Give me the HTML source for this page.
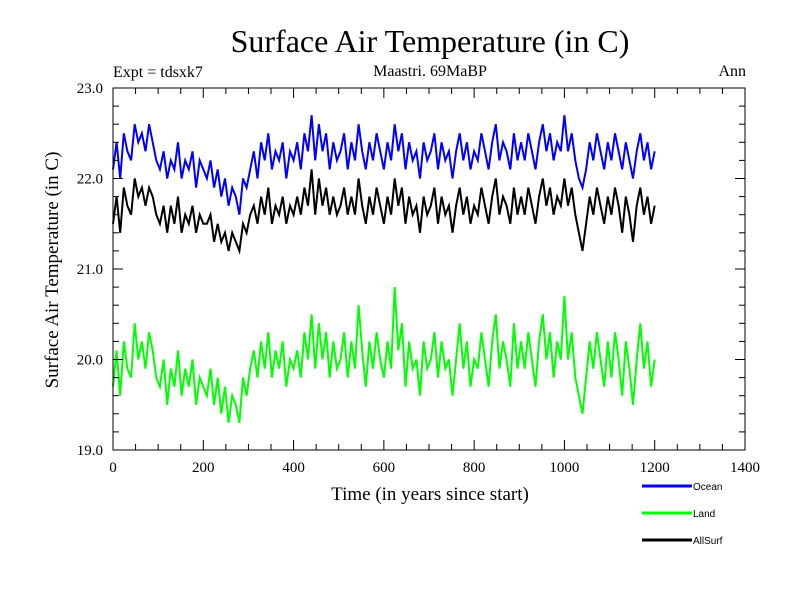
<!DOCTYPE html>
<html><head><meta charset="utf-8"><style>
body{margin:0;background:#fff}
svg{display:block}
.s{font-family:"Liberation Serif",serif}
.a{font-family:"Liberation Sans",sans-serif}
</style></head><body>
<svg id="chart" width="800" height="600" viewBox="0 0 800 600" xmlns="http://www.w3.org/2000/svg">
<rect width="800" height="600" fill="#fff"/>
<text class="s" x="430" y="52" font-size="32" text-anchor="middle">Surface Air Temperature (in C)</text>
<text class="s" x="113" y="77" font-size="16">Expt = tdsxk7</text>
<text class="s" x="430" y="76" font-size="16" text-anchor="middle">Maastri.  69MaBP</text>
<text class="s" x="746" y="76" font-size="16" text-anchor="end">Ann</text>
<text class="s" transform="translate(58,270) rotate(-90)" font-size="19" text-anchor="middle">Surface Air Temperature (in C)</text>
<text class="s" x="430" y="500" font-size="19" text-anchor="middle">Time (in years since start)</text>
<g id="plot"></g>
<g id="legend"></g>
</svg>
<script>
const xTicks=[0,200,400,600,800,1000,1200,1400];
const yTicks=[19.0,20.0,21.0,22.0,23.0];
const step=8;
const ocean=[22.1,22.4,22.0,22.5,22.3,22.2,22.6,22.4,22.5,22.3,22.6,22.4,22.2,
22.1,22.3,22.0,22.2,22.1,22.4,22.0,22.2,22.1,22.3,21.9,22.2,22.1,
22.0,22.2,21.9,22.1,21.8,22.0,21.7,21.9,21.8,21.6,22.0,21.9,
22.1,22.3,22.0,22.4,22.2,22.5,22.1,22.3,22.2,22.4,22.0,22.3,22.2,
22.4,22.1,22.5,22.3,22.7,22.2,22.6,22.3,22.5,22.1,22.4,22.2,
22.3,22.5,22.1,22.4,22.2,22.6,22.3,22.1,22.4,22.2,22.5,22.3,22.1,
22.4,22.2,22.6,22.3,22.5,22.1,22.4,22.2,22.3,22.0,22.4,22.2,
22.3,22.5,22.1,22.4,22.2,22.3,22.0,22.3,22.5,22.2,22.4,22.1,22.3,
22.2,22.5,22.3,22.1,22.4,22.6,22.2,22.4,22.3,22.1,22.5,22.2,
22.4,22.2,22.5,22.3,22.1,22.4,22.6,22.3,22.5,22.2,22.4,22.3,22.7,
22.3,22.5,22.2,22.0,21.9,22.1,22.4,22.2,22.5,22.3,22.1,22.4,
22.2,22.5,22.3,22.1,22.4,22.2,22.0,22.3,22.5,22.2,22.4,22.1,22.3];
const land=[19.7,20.1,19.6,20.2,19.9,19.8,20.4,20.0,20.2,19.9,20.3,20.1,19.8,
19.7,20.0,19.5,19.9,19.7,20.1,19.6,19.9,19.7,20.0,19.5,19.8,19.7,
19.6,19.9,19.5,19.8,19.4,19.7,19.3,19.6,19.5,19.3,19.8,19.6,
19.9,20.1,19.8,20.2,19.9,20.3,19.8,20.1,19.9,20.2,19.7,20.0,19.9,
20.1,19.8,20.3,20.0,20.5,19.9,20.4,20.0,20.3,19.8,20.2,19.9,
20.0,20.3,19.8,20.2,19.9,20.6,20.1,19.7,20.2,19.9,20.3,20.0,19.8,
20.2,19.9,20.8,20.1,20.4,19.7,20.2,19.9,20.0,19.6,20.2,19.9,
20.0,20.3,19.8,20.2,19.9,20.0,19.6,20.0,20.4,19.9,20.2,19.7,20.0,
19.9,20.3,20.0,19.7,20.2,20.5,19.9,20.2,20.0,19.7,20.4,19.9,
20.2,19.9,20.3,20.0,19.7,20.2,20.5,20.0,20.3,19.8,20.2,20.0,20.7,
20.0,20.3,19.8,19.6,19.4,19.8,20.2,19.9,20.3,20.0,19.7,20.2,
19.8,20.3,20.0,19.6,20.2,19.9,19.5,20.0,20.4,19.9,20.2,19.7,20.0];
const allsurf=[21.5,21.8,21.4,21.9,21.7,21.6,22.0,21.8,21.9,21.7,21.9,21.8,21.6,
21.5,21.7,21.4,21.7,21.5,21.8,21.4,21.6,21.5,21.7,21.4,21.6,21.5,
21.5,21.6,21.3,21.5,21.3,21.4,21.2,21.4,21.3,21.2,21.5,21.4,
21.6,21.7,21.5,21.8,21.6,21.9,21.5,21.7,21.6,21.8,21.5,21.7,21.6,
21.8,21.6,21.9,21.7,22.1,21.6,22.0,21.7,21.9,21.6,21.8,21.6,
21.7,21.9,21.6,21.8,21.6,22.0,21.7,21.5,21.8,21.6,21.9,21.7,21.5,
21.8,21.6,22.0,21.7,21.9,21.5,21.8,21.6,21.7,21.4,21.8,21.6,
21.7,21.9,21.5,21.8,21.6,21.7,21.4,21.7,21.9,21.6,21.8,21.5,21.7,
21.6,21.9,21.7,21.5,21.8,22.0,21.6,21.8,21.7,21.5,21.9,21.6,
21.8,21.6,21.9,21.7,21.5,21.8,22.0,21.7,21.9,21.6,21.8,21.7,22.0,
21.7,21.9,21.6,21.4,21.2,21.5,21.8,21.6,21.9,21.7,21.5,21.8,
21.6,21.9,21.7,21.4,21.8,21.6,21.3,21.7,21.9,21.6,21.8,21.5,21.7];
const seriesNames=["Ocean","Land","AllSurf"];
const seriesColors=["#0000ff","#00ff00","#000000"];

const NS="http://www.w3.org/2000/svg";
const L=113,R=745,T=88,B=450,X0=0,X1=1400,Y0=19,Y1=23;
const xs=v=>L+(v-X0)/(X1-X0)*(R-L);
const ys=v=>B-(v-Y0)/(Y1-Y0)*(B-T);
const plot=document.getElementById('plot');
function mk(tag,attrs,parent){const e=document.createElementNS(NS,tag);for(const k in attrs)e.setAttribute(k,attrs[k]);parent.appendChild(e);return e;}

[ocean,land,allsurf].forEach((arr,si)=>{
  const d=arr.map((v,i)=>(i?'L':'M')+xs(i*step).toFixed(1)+','+ys(v).toFixed(1)).join('');
  const p=mk('path',{d:d,fill:'none',stroke:seriesColors[si],'stroke-width':2,'stroke-linejoin':'miter'},plot);
  
  
});

const fr=mk('rect',{x:L,y:T,width:R-L,height:B-T,fill:'none',stroke:'#000','stroke-width':1},plot);



for(let v=X0;v<=X1;v+=50){
  const x=xs(v),len=(v%200===0)?10:6;
  const t1=mk('line',{x1:x,x2:x,y1:B,y2:B-len,stroke:'#000'},plot);
  
  
  const t2=mk('line',{x1:x,x2:x,y1:T,y2:T+len,stroke:'#000'},plot);
  
  
}
xTicks.forEach(v=>{
  const t=mk('text',{x:xs(v),y:B+22,'font-size':15,'text-anchor':'middle',class:'s'},plot);
  t.textContent=String(v);
  
  
});
for(let k=0;k<=20;k++){
  const v=Y0+k*0.2,y=ys(v),len=(k%5===0)?10:6;
  const t1=mk('line',{x1:L,x2:L+len,y1:y,y2:y,stroke:'#000'},plot);
  
  
  const t2=mk('line',{x1:R,x2:R-len,y1:y,y2:y,stroke:'#000'},plot);
  
  
}
yTicks.forEach(v=>{
  const t=mk('text',{x:L-10,y:ys(v)+5,'font-size':15,'text-anchor':'end',class:'s'},plot);
  t.textContent=v.toFixed(1);
  
  
});
const lg=document.getElementById('legend');
seriesNames.forEach((n,i)=>{
  const y=486+i*27;
  const ln=mk('line',{x1:642,x2:692,y1:y,y2:y,stroke:seriesColors[i],'stroke-width':3},lg);
  
  
  const t=mk('text',{x:693,y:y+4,'font-size':10,class:'a'},lg);
  t.textContent=n;
  
  
});
</script>
</body></html>
